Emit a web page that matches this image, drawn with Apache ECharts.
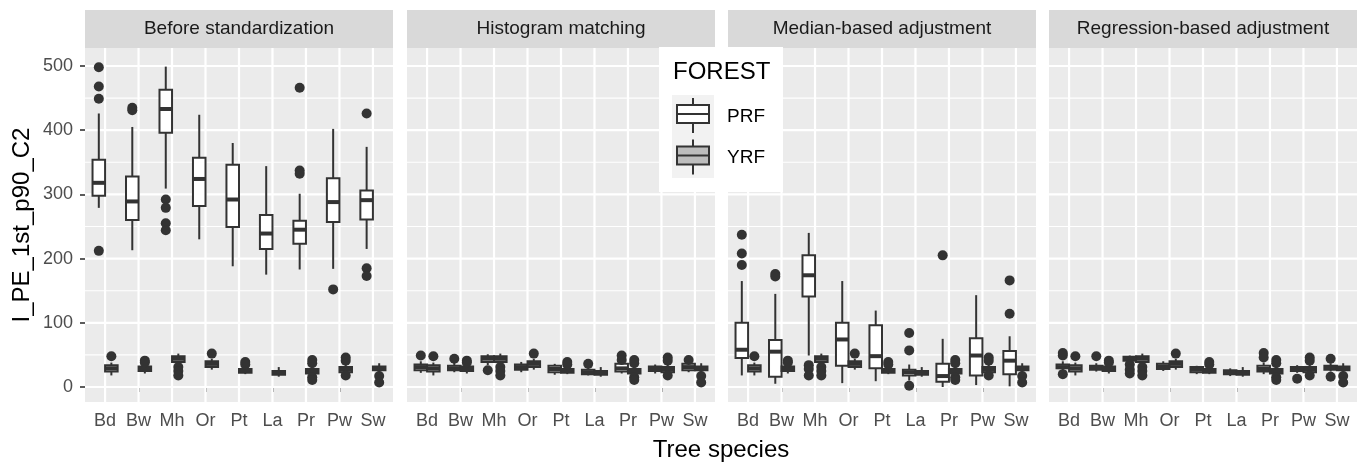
<!DOCTYPE html>
<html><head><meta charset="utf-8">
<script src="https://cdn.jsdelivr.net/npm/echarts@6/dist/echarts.min.js"></script>
<style>html,body{margin:0;padding:0;background:#fff}#c{width:1368px;height:464px}</style>
</head><body><div id="c"></div><script>
// ---------- data ----------
const species = ['Bd','Bw','Mh','Or','Pt','La','Pr','Pw','Sw'];
const panelTitles = ['Before standardization','Histogram matching','Median-based adjustment','Regression-based adjustment'];
const yTicks = [0,100,200,300,400,500];
const yMinor = [50,150,250,350,450];
const groups = ['PRF','YRF'];

// boxes: [min, q1, median, q3, max] per species
const yrfBoxes = [[18,24,29,34,38],[21,25,28,32,36],[36,39,44,48,52],[27,31,36,40,44],[20,22,25,28,31],[16,19,22,25,31],[18,21,24,28,33],[19,23,27,31,35],[22,26,29,32,37]];
const yrfOut = [[48],[41,38],[31,25,18],[52],[39,35],[],[42,37,15,11],[46,41,18],[17,7]];

const prfBefore = [[279,298,318,354,426],[213,260,289,328,405],[309,396,433,463,499],[230,282,324,357,424],[188,249,292,346,380],[175,215,239,268,344],[183,223,245,259,301],[184,257,288,325,402],[215,261,291,306,374]];
const prfBeforeOut = [[498,468,449,212],[435,431],[292,279,255,244],[],[],[],[466,337,332],[152],[426,185,173]];

const prfHist = [[22,26,31,35,40],[23,26,29,33,38],[34,39,44,48,51],[23,27,31,35,39],[19,23,28,33,36],[18,20,23,27,30],[21,24,29,36,40],[21,25,28,32,35],[23,26,31,36,39]];
const prfHistOut = [[49],[44],[26],[],[],[36],[49,42],[],[42]];

const prfMedian = [[18,45,58,100,165],[5,16,55,73,145],[49,141,174,205,240],[6,33,74,100,165],[9,29,48,96,119],[10,18,23,27,35],[0,8,17,36,75],[3,18,49,76,143],[1,20,41,56,79]];
const prfMedianOut = [[237,208,190],[176,172],[34,28,18],[],[],[84,57,2],[205],[],[166,114]];

const prfRegr = [[26,29,31,35,40],[24,27,30,33,37],[39,41,44,47,49],[25,28,32,36,40],[20,23,27,31,33],[17,20,23,26,29],[20,24,28,33,38],[22,25,28,31,34],[24,27,30,33,37]];
const prfRegrOut = [[53,49,20],[48],[35,27,21],[],[],[],[53,46],[13],[44,16]];

const prfPanels = [prfBefore, prfHist, prfMedian, prfRegr];
const prfOutPanels = [prfBeforeOut, prfHistOut, prfMedianOut, prfRegrOut];

// ---------- layout / style ----------
const FONT = "'Liberation Sans', Arial, sans-serif";
const PANEL_LEFT = [85, 407, 728, 1049];
const PANEL_W = 308, PANEL_TOP = 48, PANEL_H = 354;
const Y_MIN = -23.4, Y_MAX = 528;
const BOX_W = 0.375, DODGE = 0.1875;
const INK = '#333333';
const FILLS = {PRF: '#FFFFFF', YRF: '#BDBDBD'};

const chart = echarts.init(document.getElementById('c'), null, {renderer: 'canvas'});

const grids = [], xAxes = [], yAxes = [], series = [], graphics = [];

PANEL_LEFT.forEach((left, gi) => {
  grids.push({left: left, top: PANEL_TOP, width: PANEL_W, height: PANEL_H, show: true,
    backgroundColor: '#EBEBEB', borderWidth: 0, containLabel: false, outerBoundsMode: 'none'});
  xAxes.push({type: 'value', gridIndex: gi, min: 0.4, max: 9.6,
    axisLine: {show: false}, splitLine: {show: false},
    axisTick: {show: true, length: 5, lineStyle: {color: INK, width: 1.6}, customValues: species.map((s, i) => i + 1)},
    axisLabel: {show: true, customValues: species.map((s, i) => i + 1), formatter: v => species[Math.round(v) - 1] || '',
      color: '#4D4D4D', fontSize: 18, fontFamily: FONT, margin: 10}});
  yAxes.push({type: 'value', gridIndex: gi, min: Y_MIN, max: Y_MAX,
    axisLine: {show: false}, splitLine: {show: false},
    axisTick: {show: gi === 0, length: 5, lineStyle: {color: INK, width: 1.6}, customValues: yTicks},
    axisLabel: {show: gi === 0, customValues: yTicks, color: '#4D4D4D', fontSize: 18, fontFamily: FONT, margin: 12}});

  // grid lines
  const gl = [];
  yMinor.forEach(v => gl.push([1, v, 1]));
  yTicks.forEach(v => gl.push([1, v, 0]));
  species.forEach((s, i) => gl.push([i + 1, 0, 2]));
  series.push({type: 'custom', xAxisIndex: gi, yAxisIndex: gi, z: 1, silent: true, clip: false,
    data: gl, encode: {x: 0, y: 1},
    renderItem: (params, api) => {
      const cs = params.coordSys;
      const k = api.value(2);
      if (k === 2) {
        const p = api.coord([api.value(0), 0]);
        return {type: 'line', shape: {x1: p[0], y1: cs.y, x2: p[0], y2: cs.y + cs.height}, style: {stroke: '#FFFFFF', lineWidth: 2.2}};
      }
      const p = api.coord([1, api.value(1)]);
      return {type: 'line', shape: {x1: cs.x, y1: p[1], x2: cs.x + cs.width, y2: p[1]}, style: {stroke: '#FFFFFF', lineWidth: k === 0 ? 2.2 : 1.1}};
    }});

  // boxes
  [['PRF', prfPanels[gi], prfOutPanels[gi], -DODGE], ['YRF', yrfBoxes, yrfOut, DODGE]].forEach(([name, boxes, outs, off]) => {
    const fill = FILLS[name];
    series.push({type: 'custom', name: name, xAxisIndex: gi, yAxisIndex: gi, z: 3, silent: true,
      data: boxes.map((b, i) => [i + 1].concat(b)), encode: {x: 0, y: [1, 2, 3, 4, 5]},
      renderItem: (params, api) => {
        const x = api.value(0) + off;
        const w = api.size([BOX_W, 0])[0];
        const pMin = api.coord([x, api.value(1)]), pQ1 = api.coord([x, api.value(2)]),
              pMed = api.coord([x, api.value(3)]), pQ3 = api.coord([x, api.value(4)]),
              pMax = api.coord([x, api.value(5)]);
        const cx = pMed[0];
        return {type: 'group', children: [
          {type: 'line', shape: {x1: cx, y1: pMax[1], x2: cx, y2: pQ3[1]}, style: {stroke: INK, lineWidth: 2}},
          {type: 'line', shape: {x1: cx, y1: pQ1[1], x2: cx, y2: pMin[1]}, style: {stroke: INK, lineWidth: 2}},
          {type: 'rect', shape: {x: cx - w / 2, y: pQ3[1], width: w, height: pQ1[1] - pQ3[1]}, style: {fill: fill, stroke: INK, lineWidth: 2}},
          {type: 'line', shape: {x1: cx - w / 2, y1: pMed[1], x2: cx + w / 2, y2: pMed[1]}, style: {stroke: INK, lineWidth: 4}}
        ]};
      }});
    const pts = [];
    outs.forEach((arr, i) => arr.forEach(v => pts.push([i + 1 + off, v])));
    series.push({type: 'scatter', name: name + ' outliers', xAxisIndex: gi, yAxisIndex: gi, z: 4, silent: true,
      symbol: 'circle', symbolSize: 10, itemStyle: {color: INK, opacity: 1}, data: pts});
  });

  // strip
  graphics.push({type: 'rect', shape: {x: left, y: 10, width: PANEL_W, height: 38}, style: {fill: '#D9D9D9'}, silent: true});
  graphics.push({type: 'text', x: left + PANEL_W / 2, y: 29, style: {text: panelTitles[gi], fill: '#1A1A1A', font: '19px ' + FONT, textAlign: 'center', textVerticalAlign: 'middle'}, silent: true});
});

// axis titles
graphics.push({type: 'text', x: (PANEL_LEFT[0] + PANEL_LEFT[3] + PANEL_W) / 2, y: 450, style: {text: 'Tree species', fill: '#000', font: '24px ' + FONT, textAlign: 'center', textVerticalAlign: 'middle'}, silent: true});
graphics.push({type: 'text', x: 22, y: PANEL_TOP + PANEL_H / 2, rotation: Math.PI / 2, style: {text: 'I_PE_1st_p90_C2', fill: '#000', font: '24px ' + FONT, textAlign: 'center', textVerticalAlign: 'middle'}, silent: true});

// legend
const LZ = 100;
graphics.push({type: 'rect', z: LZ, shape: {x: 659, y: 47, width: 124, height: 145}, style: {fill: '#FFFFFF'}, silent: true});
graphics.push({type: 'text', z: LZ, x: 673, y: 72, style: {text: 'FOREST', fill: '#000', font: '24px ' + FONT, textAlign: 'left', textVerticalAlign: 'middle'}, silent: true});
graphics.push({type: 'rect', z: LZ, shape: {x: 672, y: 95, width: 42, height: 83}, style: {fill: '#F2F2F2'}, silent: true});
groups.forEach((g, k) => {
  const top = 95 + k * 41.5;
  const bx = 677, bw = 32, by = top + 10, bh = 18, cx = bx + bw / 2;
  graphics.push({type: 'line', z: LZ + 1, shape: {x1: cx, y1: top + 3, x2: cx, y2: by}, style: {stroke: INK, lineWidth: 2}, silent: true});
  graphics.push({type: 'line', z: LZ + 1, shape: {x1: cx, y1: by + bh, x2: cx, y2: top + 38}, style: {stroke: INK, lineWidth: 2}, silent: true});
  graphics.push({type: 'rect', z: LZ + 1, shape: {x: bx, y: by, width: bw, height: bh}, style: {fill: FILLS[g], stroke: INK, lineWidth: 2}, silent: true});
  graphics.push({type: 'line', z: LZ + 2, shape: {x1: bx, y1: by + bh / 2, x2: bx + bw, y2: by + bh / 2}, style: {stroke: INK, lineWidth: 2}, silent: true});
  graphics.push({type: 'text', z: LZ + 1, x: 727, y: top + 21.5, style: {text: g, fill: '#000', font: '19px ' + FONT, textAlign: 'left', textVerticalAlign: 'middle'}, silent: true});
});

chart.setOption({
  animation: false,
  backgroundColor: '#FFFFFF',
  textStyle: {fontFamily: FONT},
  grid: grids, xAxis: xAxes, yAxis: yAxes, series: series,
  graphic: {elements: graphics}
});
</script></body></html>
